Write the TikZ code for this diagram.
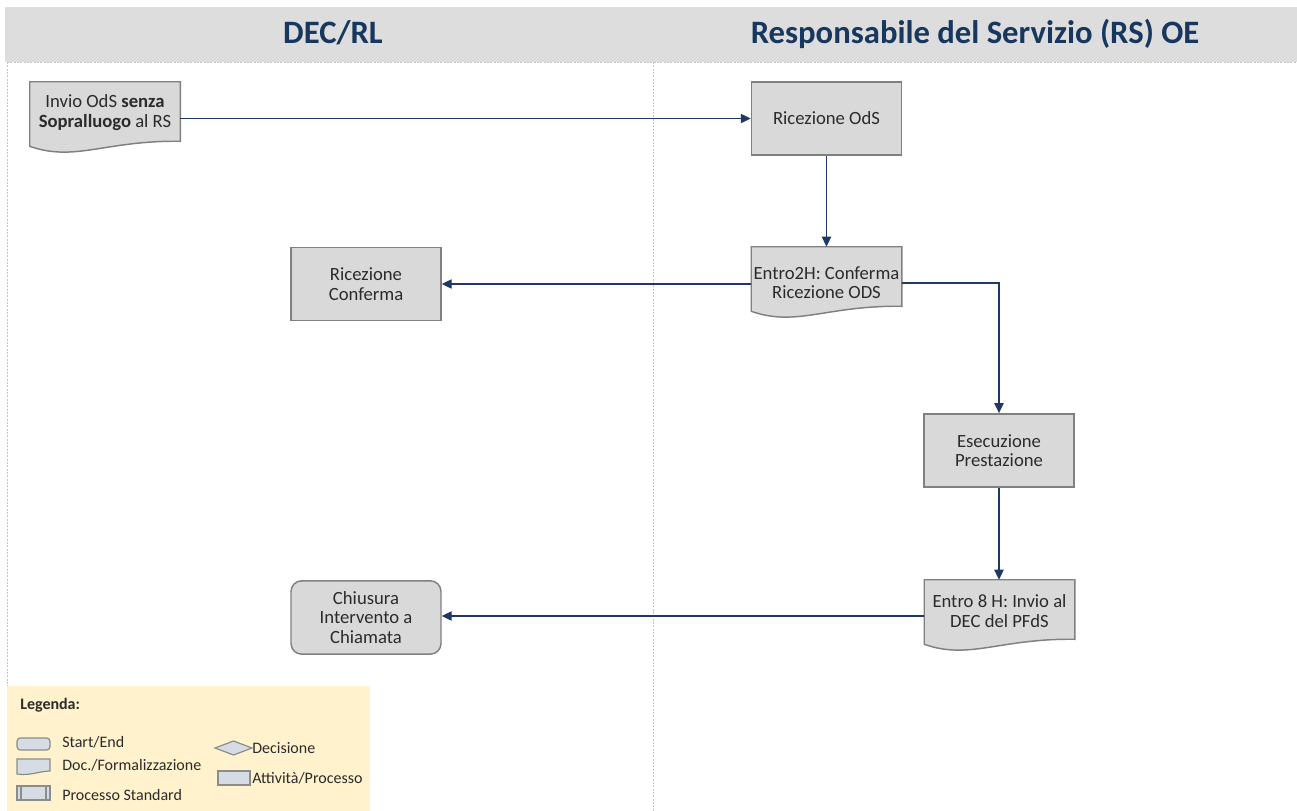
\documentclass[tikz,border=0pt]{standalone}
\usepackage{fontspec}
\setmainfont{Carlito}
\usetikzlibrary{arrows.meta,shapes.geometric,calc}
\definecolor{boxfill}{HTML}{D9D9D9}
\definecolor{boxdraw}{HTML}{808080}
\definecolor{navy}{HTML}{1F3864}
\definecolor{hdrfill}{HTML}{DDDDDD}
\definecolor{hdrtext}{HTML}{17375E}
\definecolor{legfill}{HTML}{FFF2CC}
\definecolor{lanecol}{HTML}{C4C4C4}
\definecolor{txtcol}{HTML}{2B2B2B}
\definecolor{iconfill}{HTML}{D6DCE4}
\definecolor{icondraw}{HTML}{8C8C8C}
\tikzset{
  procbox/.style={draw=boxdraw, fill=boxfill, line width=1.1pt, minimum width=112.5pt, minimum height=55pt, inner sep=0pt},
  docbox/.style={draw=none, minimum width=112.5pt, minimum height=54pt, inner sep=0pt},
  docline/.style={draw=boxdraw, fill=boxfill, line width=1.1pt},
  boxtext/.style={align=center, font=\fontsize{14}{14.6}\selectfont, text=txtcol, inner sep=0pt},
  conn/.style={draw=navy, line width=0.9pt, -{Triangle[length=7.5pt,width=7pt]}},
  laneline/.style={draw=lanecol, line width=0.6pt, dash pattern=on 1.5pt off 1pt},
  hdrlabel/.style={font=\fontsize{24.5}{28}\bfseries\selectfont, text=hdrtext, inner sep=0pt, anchor=base},
  legtext/.style={font=\fontsize{12}{14}\selectfont, text=txtcol, anchor=west, inner sep=0pt},
  legicon/.style={draw=icondraw, fill=iconfill, line width=0.9pt},
}
\newcommand\docoutline[1]{%
  \path[docline] (#1.north west) -- (#1.north east) -- ($(#1.south east)+(0,-13)$)
    .. controls ($(#1.south east)+(-75,-14)$) and ($(#1.south west)+(45,8)$) .. ($(#1.south west)+(0,-8)$) -- cycle;}
\begin{document}
\begin{tikzpicture}[x=0.75pt,y=-0.75pt]
\useasboundingbox (0,0) rectangle (1297,811);
% header
\fill[hdrfill] (5,7) rectangle (1297,62);
\node[hdrlabel] (h1) at (333,43) {DEC/RL};
\node[hdrlabel] (h2) at (975,43) {Responsabile del Servizio (RS) OE};
% lanes
\draw[laneline] (7,62) -- (1297,62);
\draw[laneline] (7,62) -- (7,811);
\draw[laneline] (653,62) -- (653,811);
% legend
\fill[legfill] (7,686) rectangle (370,811);
\node[legtext, font=\fontsize{12}{14}\bfseries\selectfont] (lg) at (20,705) {Legenda:};
\draw[legicon, rounded corners=2.5pt] (17,738) rectangle (50,750);
\node[legtext] (l1) at (62,742) {Start/End};
\draw[legicon] (17,759) -- (50,759) -- (50,771) .. controls (40,771) and (30,776) .. (17,774) -- cycle;
\node[legtext] (l2) at (62,765) {Doc./Formalizzazione};
\draw[legicon] (17,786) rectangle (50,800);
\draw[icondraw, line width=0.9pt] (21,786) -- (21,800) (46,786) -- (46,800);
\node[legtext] (l3) at (62,795) {Processo Standard};
\draw[legicon] (215,748) -- (233.5,741) -- (252,748) -- (233.5,755) -- cycle;
\node[legtext] (l4) at (252,748) {Decisione};
\draw[legicon] (218,771) rectangle (250,785);
\node[legtext] (l5) at (252,778) {Attività/Processo};
% nodes
\node[docbox] (inv) at (105,118) {};
\docoutline{inv}
\node[boxtext] (invt) at (105,112.5) {Invio OdS \textbf{senza}\\\textbf{Sopralluogo} al RS};
\node[procbox] (rod) at (826.5,118.5) {};
\node[boxtext] (rodt) at (rod.center) {Ricezione OdS};
\node[docbox] (e2) at (826.5,283) {};
\docoutline{e2}
\node[boxtext] (e2t) at (826.5,282.5) {Entro2H: Conferma\\Ricezione ODS};
\node[procbox] (rc) at (366,284) {};
\node[boxtext] (rct) at (rc.center) {Ricezione\\Conferma};
\node[procbox] (es) at (999,450.5) {};
\node[boxtext] (est) at (es.center) {Esecuzione\\Prestazione};
\node[docbox] (e8) at (999.5,616) {};
\docoutline{e8}
\node[boxtext] (e8t) at (999.5,611) {Entro 8 H: Invio al\\DEC del PFdS};
\node[procbox, rounded corners=8pt] (ch) at (366,617.5) {};
\node[boxtext] (cht) at (ch.center) {Chiusura\\Intervento a\\Chiamata};
% connectors
\draw[conn] (inv.east |- rod.west) -- (rod.west);
\draw[conn] (rod.south) -- (e2.north);
\draw[conn] (e2.west |- rc.east) -- (rc.east);
\draw[conn] (e2.east) -| (es.north);
\draw[conn] (es.south) -- (e8.north -| es.south);
\draw[conn] (e8.west) -- (e8.west -| ch.east);
\end{tikzpicture}
\end{document}
